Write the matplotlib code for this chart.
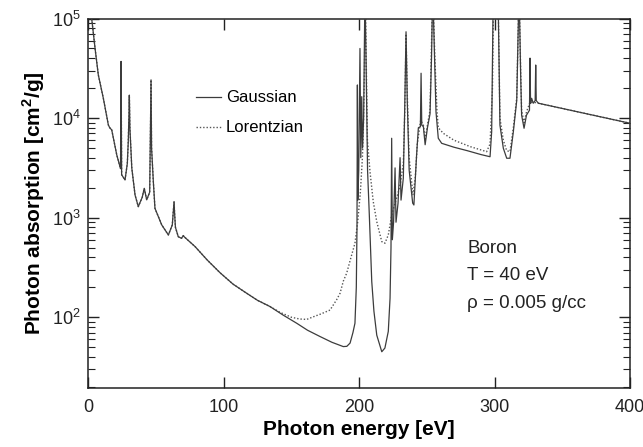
import matplotlib
matplotlib.use("Agg")
import matplotlib.pyplot as plt
from matplotlib.ticker import LogLocator, NullFormatter, FixedLocator

plt.rcParams['font.family'] = ['Liberation Sans', 'DejaVu Sans']
plt.rcParams['mathtext.fontset'] = 'custom'
plt.rcParams['mathtext.rm'] = 'Liberation Sans'
plt.rcParams['mathtext.bf'] = 'Liberation Sans:bold'

# ---- data ----
# shared low-energy part (both profiles coincide)
low_x = [0.5, 2.7, 5.2, 7.6, 11.3, 15.0, 16.0, 17.5, 21.2, 24.0, 24.4, 24.8, 27.3,
         29.0, 29.7, 30.3, 30.5, 30.9, 32.3, 34.7, 37.1, 40.0, 41.5, 43.3, 45.5,
         46.2, 46.5, 46.9, 48.2, 49.4, 54.4, 59.3, 62.2, 63.2, 63.5, 63.9, 64.5,
         66.6, 69.0, 70.3, 71.1, 79.0, 88.0, 97.4, 107.0, 117.1, 125.0, 134.3]
low_y = [3e5, 1e5, 50000, 27100, 15800, 8530, 8000, 7600, 4270, 3100, 37000, 2700, 2390,
         3500, 5800, 12000, 17000, 8000, 3150, 1690, 1290, 1600, 1970, 1510, 1800,
         10000, 24200, 5000, 2300, 1240, 845, 670, 845, 1300, 1450, 1100, 800,
         644, 620, 660, 640, 512, 375, 280, 215, 174, 148, 128]

gauss_x = [144.0, 154.0, 162.0, 171.2, 180.0, 188.4, 191.0, 193.4, 195.5, 197.0, 198.0,
           198.5, 198.8, 199.1,
           199.8, 200.7, 201.3, 202.0, 202.6, 203.4, 204.4, 205.3, 206.3, 207.6,
           209.4, 211.0, 213.1, 216.8, 219.1, 221.6, 222.9, 223.6, 224.1, 224.6,
           225.5, 226.6, 227.3, 228.8, 230.3, 231.0, 232.7, 233.7, 234.7, 235.6,
           237.0, 239.6, 240.5, 242.5, 243.8, 245.3, 245.8, 246.3, 247.5, 248.8,
           250.5, 252.4, 253.5, 254.4, 255.6, 256.8, 258.5, 261.0, 270.0, 280.0,
           290.0, 296.7, 297.9, 299.1, 301.0, 302.8, 304.0, 306.5, 309.0, 311.4,
           313.9, 316.4, 318.1, 319.3, 320.0, 321.8, 323.6, 325.8, 326.2, 326.6,
           327.4, 328.6, 330.0, 330.4, 330.8, 332.3, 400.0]
gauss_y = [105, 87, 74, 64, 56, 50.7, 51, 55, 70, 87, 200,
           800, 21500, 1500,
           3000, 50000, 4000, 16400, 5000, 10000, 2e5, 30000, 3000, 1064,
           228, 115, 66, 45, 49, 72, 155, 500, 6270, 600,
           900, 3160, 900, 1400, 4000, 1500, 2500, 12000, 73600, 15000,
           3000, 1400, 1340, 4270, 8000, 8200, 28200, 8500, 8200, 5400,
           8000, 11000, 40000, 2e5, 50000, 11600, 6270, 5580, 5100, 4700,
           4300, 4090, 7300, 2e5, 3e5, 1.2e5, 8500, 4980, 3950, 3950,
           7300, 15000, 2e5, 27100, 10700, 7900, 10700, 12000, 40000, 14000,
           15800, 14100, 15000, 34100, 15000, 14100, 8870]

lor_x = [141.7, 150.0, 156.0, 161.4, 166.3, 172.0, 178.6, 183.5, 186.0, 188.4, 190.9,
         194.2, 197.0, 199.0, 201.0, 202.5, 203.2, 204.0, 204.6, 205.3, 206.2, 208.1,
         210.5, 213.1, 216.8, 219.1, 221.6, 224.1, 226.6, 228.5, 230.5, 232.7,
         233.8, 234.7, 235.6, 237.0, 239.8, 241.5, 243.0, 245.5, 247.5, 248.8,
         250.5, 252.4, 254.4, 256.0, 257.5, 258.5, 262.2, 270.0, 282.0, 294.2,
         296.7, 298.5, 299.4, 301.0, 302.8, 304.0, 306.5, 309.0, 311.4, 313.9,
         316.4, 318.1, 319.3, 320.0, 321.8, 323.6, 326.2, 328.6, 330.4, 332.3, 400.0]
lor_y = [112, 100, 96, 95, 101, 108, 118, 150, 174, 230, 277,
         405, 553, 900, 1800, 4000, 7600, 30000, 2e5, 40000, 6000, 2900,
         1450, 910, 574, 553, 670, 1060, 1400, 1700, 2200, 3500,
         12000, 70000, 18000, 4000, 1700, 2500, 5500, 9500, 8500, 6200,
         8500, 12000, 2e5, 40000, 12000, 8000, 7030, 6000, 5170, 4600,
         5500, 20000, 2e5, 3e5, 1.2e5, 10000, 6000, 4700, 4600, 8000,
         16000, 2e5, 30000, 12000, 9000, 11500, 14500, 14300, 14300, 14100, 8870]

series_labels = ["Gaussian", "Lorentzian"]
x_ticks = [0, 100, 200, 300, 400]
annotation = ["Boron", "T = 40 eV", "\u03c1 = 0.005 g/cc"]

# ---- figure ----
fig = plt.figure(figsize=(6.43, 4.47), dpi=100)
ax = fig.add_axes([0.1369, 0.1327, 0.8429, 0.8259])

ax.plot(low_x + gauss_x, low_y + gauss_y, color='#3c3c3c', lw=0.9,
        label=series_labels[0], zorder=3)
ax.plot(low_x + lor_x, low_y + lor_y, color='#555555', lw=1.0,
        linestyle=(0, (1, 1.4)), label=series_labels[1], zorder=2)

ax.set_yscale('log')
ax.set_xlim(0, 400)
ax.set_ylim(19.6, 1e5)
ax.xaxis.set_major_locator(FixedLocator(x_ticks))
ax.set_xticklabels([str(t) for t in x_ticks])
ax.yaxis.set_major_locator(LogLocator(base=10, numticks=10))
ax.yaxis.set_minor_locator(LogLocator(base=10, subs=range(2, 10), numticks=10))
ax.yaxis.set_minor_formatter(NullFormatter())

ax.tick_params(which='both', direction='in', top=True, right=True,
               labelsize=13, colors='#222222')
ax.tick_params(axis='x', pad=8)
ax.tick_params(axis='y', pad=5)
ax.tick_params(which='major', length=8, width=1)
ax.tick_params(which='minor', length=5, width=0.8)
for s in ax.spines.values():
    s.set_linewidth(1.1)
    s.set_color('#222222')

ax.set_xlabel("Photon energy [eV]", fontsize=15, fontweight='bold', labelpad=3)
ax.set_ylabel("Photon absorption [cm$^\\mathbf{2}$/g]", fontsize=15,
              fontweight='bold', labelpad=4)

leg = ax.legend(loc='upper left', bbox_to_anchor=(0.199, 0.805), frameon=False,
                fontsize=12, handlelength=1.5, handletextpad=0.3,
                labelspacing=0.9, borderpad=0, borderaxespad=0)

for i, (txt, yy) in enumerate(zip(annotation, [0.378, 0.305, 0.229])):
    ax.text(0.700, yy, txt, transform=ax.transAxes, fontsize=13.5,
            va='center', ha='left', color='#222222')

fig.savefig("out.png", dpi=100)
